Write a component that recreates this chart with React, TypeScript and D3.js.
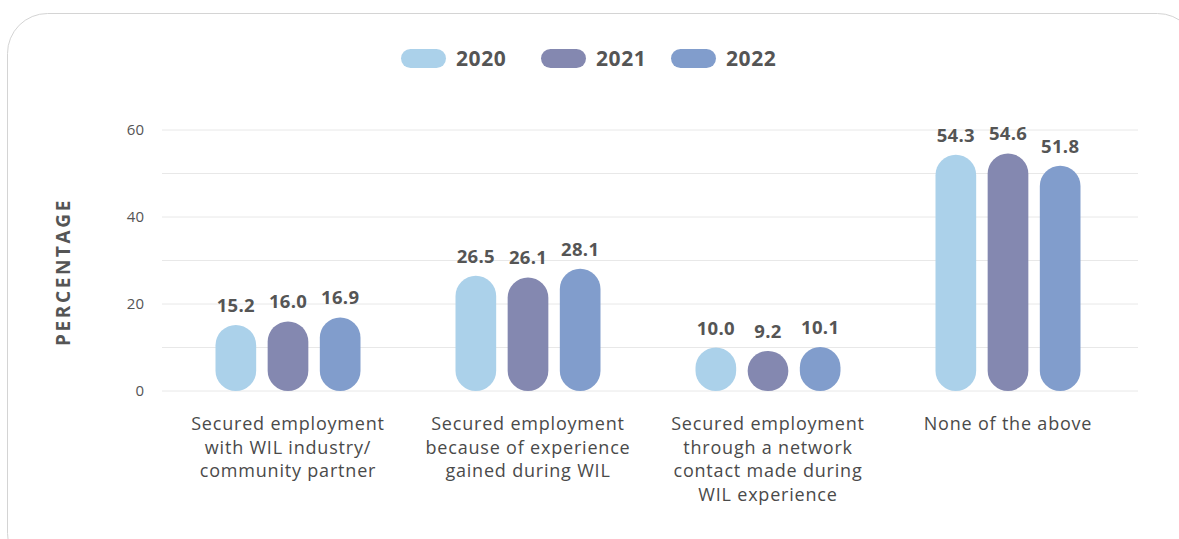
import React from "react";
import * as d3 from "d3";

const categories: string[][] = [
  ["Secured employment", "with WIL industry/", "community partner"],
  ["Secured employment", "because of experience", "gained during WIL"],
  ["Secured employment", "through a network", "contact made during", "WIL experience"],
  ["None of the above"],
];
const years = ["2020", "2021", "2022"];
const values2020 = [15.2, 26.5, 10.0, 54.3];
const values2021 = [16.0, 26.1, 9.2, 54.6];
const values2022 = [16.9, 28.1, 10.1, 51.8];
const yTicks = [0, 20, 40, 60];
const gridTicks = [0, 10, 20, 30, 40, 50, 60];

const colors = ["#abd1ea", "#8488b0", "#819dcc"];
const series = [values2020, values2021, values2022];

const W = 1179;
const H = 539;
const FONT = "'Open Sans', 'Noto Sans', sans-serif";
const TEXT = "#555555";

export default function App() {
  const y = d3.scaleLinear().domain([0, 60]).range([391, 130]);
  const x0 = d3
    .scaleBand<number>()
    .domain(categories.map((_, i) => i))
    .range([168, 1128]);
  const x1 = d3
    .scaleBand<number>()
    .domain(years.map((_, i) => i))
    .range([0, 145])
    .paddingInner(0.22);
  const groupOffset = (x0.bandwidth() - 145) / 2;

  const legendX = [401, 541, 671];

  return (
    <svg
      width={W}
      height={H}
      style={{ position: "absolute", left: 0, top: 0, background: "#fff" }}
    >
      <rect
        x={7.5}
        y={13.5}
        width={1190}
        height={560}
        rx={40}
        ry={40}
        fill="#fff"
        stroke="#d4d4d4"
        strokeWidth={1}
      />

      {/* legend */}
      {years.map((yr, i) => (
        <g key={yr}>
          <rect
            x={legendX[i]}
            y={49}
            width={45}
            height={19}
            rx={9.5}
            fill={colors[i]}
          />
          <text
            x={legendX[i] + 55}
            y={66}
            fontFamily={FONT}
            fontWeight={700}
            fontSize={21}
            letterSpacing={0.6}
            fill={TEXT}
          >
            {yr}
          </text>
        </g>
      ))}

      {/* grid */}
      {gridTicks.map((t) => (
        <line
          key={t}
          x1={162}
          x2={1138}
          y1={y(t)}
          y2={y(t)}
          stroke="#e8e8e8"
          strokeWidth={1}
        />
      ))}
      {yTicks.map((t) => (
        <text
          key={t}
          x={144}
          y={y(t)}
          dy="0.35em"
          textAnchor="end"
          fontFamily={FONT}
          fontSize={15}
          fill={TEXT}
        >
          {t}
        </text>
      ))}
      <text
        transform={`translate(63,${272}) rotate(-90)`}
        textAnchor="middle"
        dy="0.35em"
        fontFamily={FONT}
        fontWeight={700}
        fontSize={19}
        letterSpacing={2.6}
        fill={TEXT}
      >
        PERCENTAGE
      </text>

      {/* bars */}
      {categories.map((lines, ci) => (
        <g key={ci} transform={`translate(${x0(ci)! + groupOffset},0)`}>
          {series.map((vals, si) => {
            const bx = x1(si)!;
            const bw = x1.bandwidth();
            const top = y(vals[ci]);
            const h = y(0) - top;
            return (
              <g key={si}>
                <rect
                  x={bx}
                  y={top}
                  width={bw}
                  height={h}
                  rx={Math.min(bw / 2, h / 2)}
                  ry={bw / 2}
                  fill={colors[si]}
                />
                <text
                  x={bx + bw / 2}
                  y={top - 13}
                  textAnchor="middle"
                  fontFamily={FONT}
                  fontWeight={700}
                  fontSize={18.5}
                  letterSpacing={0.3}
                  fill={TEXT}
                >
                  {vals[ci].toFixed(1)}
                </text>
              </g>
            );
          })}
          {lines.map((ln, li) => (
            <text
              key={li}
              x={72.5}
              y={430 + li * 23.5}
              textAnchor="middle"
              fontFamily={FONT}
              fontSize={18}
              letterSpacing={0.8}
              fill="#4a4a4a"
            >
              {ln}
            </text>
          ))}
        </g>
      ))}
    </svg>
  );
}
